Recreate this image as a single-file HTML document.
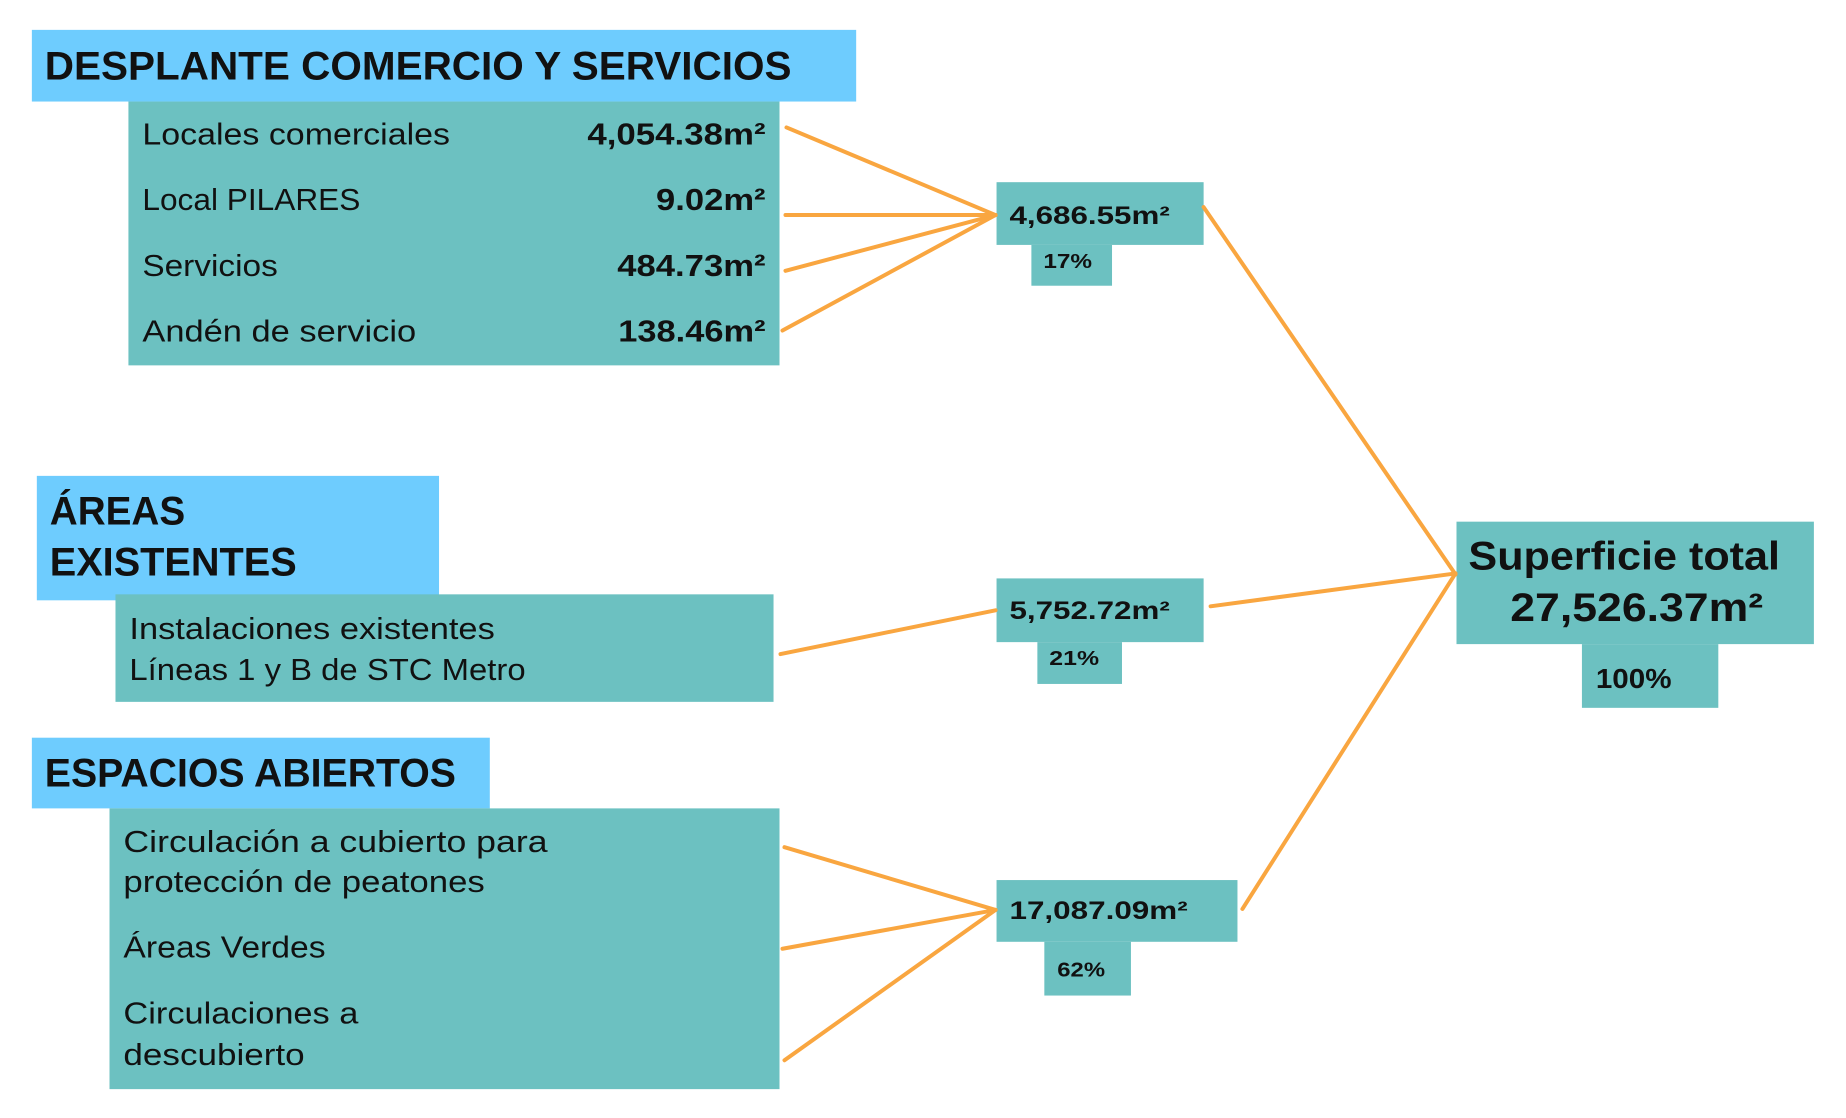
<!DOCTYPE html>
<html><head><meta charset="utf-8"><style>
html,body{margin:0;padding:0;background:#fff;}
svg{display:block;font-family:"Liberation Sans",sans-serif;}
</style></head><body>
<svg width="1846" height="1118" viewBox="0 0 1854 1123" preserveAspectRatio="xMinYMin meet" xmlns="http://www.w3.org/2000/svg">
<g fill="#6ECCFE">
<rect x="32" y="30" width="828" height="72"/>
<rect x="37" y="478" width="404" height="125"/>
<rect x="32" y="741" width="460" height="71"/>
</g>
<g fill="#6CC1C1">
<rect x="129" y="102" width="654" height="265"/>
<rect x="1001" y="183" width="208" height="63"/>
<rect x="1036" y="246" width="81" height="41"/>
<rect x="116" y="597" width="661" height="108"/>
<rect x="1001" y="581" width="208" height="64"/>
<rect x="1042" y="645" width="85" height="42"/>
<rect x="1463" y="524" width="359" height="123"/>
<rect x="1589" y="647" width="137" height="64"/>
<rect x="110" y="812" width="673" height="282"/>
<rect x="1001" y="884" width="242" height="62"/>
<rect x="1049" y="946" width="87" height="54"/>
</g>
<g stroke="#F9A640" stroke-width="4" fill="none" stroke-linecap="round">
<line x1="790" y1="128" x2="1000" y2="216"/>
<line x1="789" y1="216" x2="1000" y2="216"/>
<line x1="789" y1="272" x2="1000" y2="216"/>
<line x1="786" y1="332" x2="1000" y2="216"/>
<line x1="1209" y1="208" x2="1462" y2="577"/>
<line x1="784" y1="657" x2="1000" y2="613"/>
<line x1="1216" y1="609" x2="1462" y2="576"/>
<line x1="788" y1="851" x2="1000" y2="914"/>
<line x1="786" y1="953" x2="1000" y2="914"/>
<line x1="788" y1="1065" x2="1000" y2="914"/>
<line x1="1248" y1="913" x2="1462" y2="576"/>
</g>
<g fill="#111" font-weight="bold" font-size="40">
<text x="45" y="80" textLength="750" lengthAdjust="spacingAndGlyphs">DESPLANTE COMERCIO Y SERVICIOS</text>
<text x="50" y="527" textLength="136" lengthAdjust="spacingAndGlyphs">ÁREAS</text>
<text x="50" y="578" textLength="248" lengthAdjust="spacingAndGlyphs">EXISTENTES</text>
<text x="45" y="790" textLength="413" lengthAdjust="spacingAndGlyphs">ESPACIOS ABIERTOS</text>
<text x="1475" y="572" textLength="313" lengthAdjust="spacingAndGlyphs">Superficie total</text>
<text x="1517" y="624" textLength="254" lengthAdjust="spacingAndGlyphs">27,526.37m²</text>
</g>
<g fill="#111" font-size="31">
<text x="143" y="145" textLength="309" lengthAdjust="spacingAndGlyphs">Locales comerciales</text>
<text x="143" y="211" textLength="219" lengthAdjust="spacingAndGlyphs">Local PILARES</text>
<text x="143" y="277" textLength="136" lengthAdjust="spacingAndGlyphs">Servicios</text>
<text x="143" y="343" textLength="275" lengthAdjust="spacingAndGlyphs">Andén de servicio</text>
<text x="130" y="642" textLength="367" lengthAdjust="spacingAndGlyphs">Instalaciones existentes</text>
<text x="130" y="683" textLength="398" lengthAdjust="spacingAndGlyphs">Líneas 1 y B de STC Metro</text>
<text x="124" y="856" textLength="426" lengthAdjust="spacingAndGlyphs">Circulación a cubierto para</text>
<text x="124" y="896" textLength="363" lengthAdjust="spacingAndGlyphs">protección de peatones</text>
<text x="124" y="962" textLength="203" lengthAdjust="spacingAndGlyphs">Áreas Verdes</text>
<text x="124" y="1028" textLength="236" lengthAdjust="spacingAndGlyphs">Circulaciones a</text>
<text x="124" y="1070" textLength="182" lengthAdjust="spacingAndGlyphs">descubierto</text>
</g>
<g fill="#111" font-size="31" font-weight="bold">
<text x="590" y="145" textLength="179" lengthAdjust="spacingAndGlyphs">4,054.38m²</text>
<text x="659" y="211" textLength="110" lengthAdjust="spacingAndGlyphs">9.02m²</text>
<text x="620" y="277" textLength="149" lengthAdjust="spacingAndGlyphs">484.73m²</text>
<text x="621" y="343" textLength="148" lengthAdjust="spacingAndGlyphs">138.46m²</text>
</g>
<g fill="#111" font-size="25" font-weight="bold">
<text x="1014" y="225" textLength="161" lengthAdjust="spacingAndGlyphs">4,686.55m²</text>
<text x="1014" y="622" textLength="161" lengthAdjust="spacingAndGlyphs">5,752.72m²</text>
<text x="1014" y="923" textLength="179" lengthAdjust="spacingAndGlyphs">17,087.09m²</text>
<text x="1603" y="691" textLength="76" lengthAdjust="spacingAndGlyphs" font-size="28">100%</text>
</g>
<g fill="#111" font-size="20" font-weight="bold">
<text x="1048" y="269" textLength="49" lengthAdjust="spacingAndGlyphs">17%</text>
<text x="1054" y="668" textLength="50" lengthAdjust="spacingAndGlyphs">21%</text>
<text x="1062" y="981" textLength="48" lengthAdjust="spacingAndGlyphs">62%</text>
</g>
</svg>
</body></html>
